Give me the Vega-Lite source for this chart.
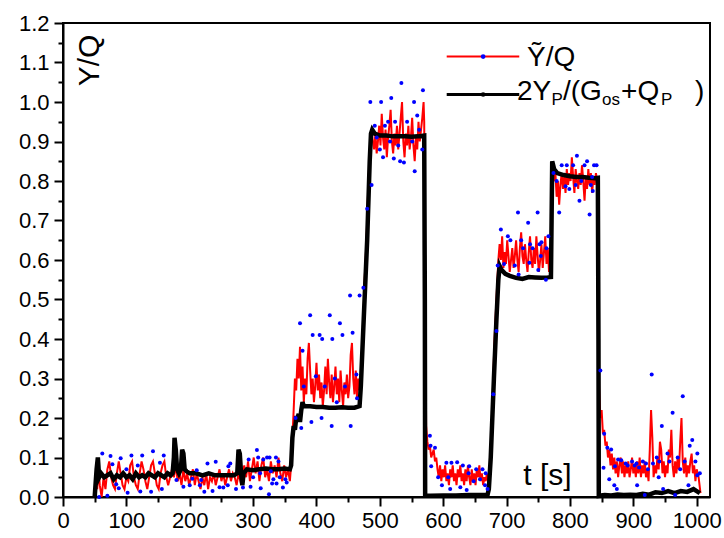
{
"$schema": "https://vega.github.io/schema/vega-lite/v6.json",
"width": 647, "height": 474, "autosize": "none",
"padding": {"left": 63, "top": 23, "right": 14, "bottom": 41},
"background": "white",
"config": {
 "view": {"stroke": "black", "strokeWidth": 2},
 "axis": {"labelFont": "Liberation Sans", "labelFontSize": 22, "labelColor": "black", "titleFont": "Liberation Sans", "titleFontSize": 30, "titleFontWeight": "normal", "titleColor": "black", "domainColor": "black", "domainWidth": 2, "tickColor": "black", "tickWidth": 2, "grid": false, "labelFlush": false, "labelOverlap": false},
 "text": {"font": "Liberation Sans", "color": "black"}
},
"datasets": {
 "red": [
{"t":50,"v":0},{"t":52,"v":0.06},{"t":54,"v":0.02},{"t":56,"v":0.08},{"t":58,"v":0.03},{"t":61,"v":0.0},{"t":64,"v":0.05},{"t":67,"v":0.02},{"t":70,"v":0.07},{"t":73,"v":0.09},{"t":76,"v":0.05},{"t":79,"v":0.03},{"t":82,"v":0.02},{"t":85,"v":0.06},{"t":88,"v":0.09},{"t":91,"v":0.06},{"t":94,"v":0.03},{"t":97,"v":0.02},{"t":100,"v":0.05},{"t":103,"v":0.04},{"t":106,"v":0.08},{"t":109,"v":0.09},{"t":112,"v":0.05},{"t":115,"v":0.03},{"t":118,"v":0.02},{"t":121,"v":0.06},{"t":124,"v":0.09},{"t":127,"v":0.07},{"t":130,"v":0.04},{"t":133,"v":0.02},{"t":136,"v":0.05},{"t":139,"v":0.08},{"t":142,"v":0.09},{"t":145,"v":0.06},{"t":148,"v":0.03},{"t":151,"v":0.02},{"t":154,"v":0.06},{"t":157,"v":0.08},{"t":160,"v":0.09},{"t":163,"v":0.05},{"t":166,"v":0.03},{"t":169,"v":0.05},{"t":172,"v":0.07},{"t":175,"v":0.05},
{"t":178,"v":0.08},{"t":181,"v":0.04},{"t":184,"v":0.06},{"t":187,"v":0.03},{"t":190,"v":0.07},{"t":193,"v":0.04},{"t":196,"v":0.06},{"t":199,"v":0.03},{"t":202,"v":0.05},{"t":205,"v":0.07},{"t":208,"v":0.03},{"t":211,"v":0.06},{"t":214,"v":0.04},{"t":217,"v":0.02},{"t":220,"v":0.05},{"t":223,"v":0.03},{"t":226,"v":0.06},{"t":229,"v":0.02},{"t":232,"v":0.05},{"t":235,"v":0.04},{"t":238,"v":0.06},{"t":241,"v":0.03},{"t":244,"v":0.05},{"t":247,"v":0.07},{"t":250,"v":0.04},{"t":253,"v":0.06},{"t":256,"v":0.03},{"t":259,"v":0.05},{"t":262,"v":0.07},{"t":265,"v":0.04},{"t":268,"v":0.06},{"t":271,"v":0.05},{"t":274,"v":0.03},{"t":277,"v":0.06},
{"t":280,"v":0.04},{"t":283,"v":0.05},{"t":286,"v":0.08},{"t":289,"v":0.05},{"t":292,"v":0.09},{"t":295,"v":0.04},{"t":298,"v":0.07},{"t":301,"v":0.1},{"t":304,"v":0.06},{"t":307,"v":0.09},{"t":310,"v":0.04},{"t":313,"v":0.08},{"t":316,"v":0.1},{"t":319,"v":0.05},{"t":322,"v":0.07},{"t":325,"v":0.04},{"t":328,"v":0.09},{"t":331,"v":0.06},{"t":334,"v":0.08},{"t":337,"v":0.05},{"t":340,"v":0.1},{"t":343,"v":0.06},{"t":346,"v":0.04},{"t":349,"v":0.08},{"t":352,"v":0.05},{"t":355,"v":0.07},{"t":358,"v":0.04},{"t":360,"v":0.08},
{"t":362,"v":0.15},{"t":364,"v":0.22},{"t":366,"v":0.3},{"t":368,"v":0.27},
{"t":370,"v":0.35},{"t":372,"v":0.3},{"t":374,"v":0.38},{"t":376,"v":0.27},{"t":378,"v":0.33},{"t":380,"v":0.24},{"t":382,"v":0.3},{"t":384,"v":0.26},{"t":386,"v":0.35},{"t":388,"v":0.39},{"t":390,"v":0.32},{"t":392,"v":0.26},{"t":394,"v":0.3},{"t":396,"v":0.24},{"t":398,"v":0.28},{"t":400,"v":0.34},{"t":402,"v":0.27},{"t":404,"v":0.31},{"t":406,"v":0.25},{"t":408,"v":0.29},{"t":410,"v":0.23},{"t":412,"v":0.27},{"t":414,"v":0.33},{"t":416,"v":0.26},{"t":418,"v":0.35},{"t":420,"v":0.29},{"t":422,"v":0.25},{"t":424,"v":0.31},{"t":426,"v":0.24},{"t":428,"v":0.28},{"t":430,"v":0.33},{"t":432,"v":0.26},{"t":434,"v":0.3},{"t":436,"v":0.24},{"t":438,"v":0.32},{"t":440,"v":0.27},{"t":442,"v":0.23},{"t":444,"v":0.29},{"t":446,"v":0.26},{"t":448,"v":0.31},{"t":450,"v":0.25},{"t":452,"v":0.28},{"t":454,"v":0.36},{"t":456,"v":0.39},{"t":458,"v":0.3},{"t":460,"v":0.26},{"t":462,"v":0.32},{"t":464,"v":0.25},{"t":466,"v":0.3},{"t":468,"v":0.27},
{"t":470,"v":0.3},{"t":473,"v":0.4},{"t":476,"v":0.55},{"t":479,"v":0.65},{"t":482,"v":0.8},{"t":485,"v":0.9},
{"t":487,"v":0.93},{"t":489,"v":0.9},{"t":491,"v":0.88},{"t":493,"v":0.92},{"t":495,"v":0.87},{"t":497,"v":0.9},{"t":499,"v":0.94},{"t":501,"v":0.89},{"t":503,"v":0.97},{"t":505,"v":0.91},{"t":507,"v":0.88},{"t":509,"v":0.93},{"t":511,"v":0.86},{"t":513,"v":0.91},{"t":515,"v":0.94},{"t":517,"v":0.98},{"t":519,"v":0.9},{"t":521,"v":0.87},{"t":523,"v":0.92},{"t":525,"v":0.89},{"t":527,"v":0.94},{"t":529,"v":0.88},{"t":531,"v":0.92},{"t":533,"v":0.96},{"t":535,"v":1.0},{"t":537,"v":0.9},{"t":539,"v":0.86},{"t":541,"v":0.92},{"t":543,"v":0.89},{"t":545,"v":0.94},{"t":547,"v":0.88},{"t":549,"v":0.91},{"t":551,"v":0.96},{"t":553,"v":0.89},{"t":555,"v":0.85},{"t":557,"v":0.91},{"t":559,"v":0.88},{"t":561,"v":0.95},{"t":563,"v":0.9},{"t":565,"v":0.93},{"t":567,"v":0.96},{"t":569,"v":1.0},{"t":570,"v":0.95},
{"t":571.5,"v":0.55},{"t":573,"v":0.18},
{"t":575,"v":0.14},{"t":577,"v":0.12},{"t":579,"v":0.13},{"t":581,"v":0.1},{"t":583,"v":0.11},{"t":585,"v":0.12},{"t":587,"v":0.09},{"t":589,"v":0.1},{"t":591,"v":0.07},{"t":593,"v":0.05},{"t":595,"v":0.08},{"t":597,"v":0.04},{"t":599,"v":0.07},{"t":601,"v":0.05},{"t":603,"v":0.08},{"t":605,"v":0.04},{"t":607,"v":0.06},{"t":609,"v":0.03},{"t":611,"v":0.07},{"t":613,"v":0.05},{"t":615,"v":0.08},{"t":617,"v":0.04},{"t":619,"v":0.06},{"t":621,"v":0.03},{"t":623,"v":0.07},{"t":625,"v":0.05},{"t":627,"v":0.08},{"t":629,"v":0.04},{"t":631,"v":0.06},{"t":633,"v":0.03},{"t":635,"v":0.07},{"t":637,"v":0.04},{"t":639,"v":0.08},{"t":641,"v":0.05},{"t":643,"v":0.03},{"t":645,"v":0.07},{"t":647,"v":0.04},{"t":649,"v":0.06},{"t":651,"v":0.03},{"t":653,"v":0.07},{"t":655,"v":0.05},{"t":657,"v":0.08},{"t":659,"v":0.04},{"t":661,"v":0.06},{"t":663,"v":0.03},{"t":665,"v":0.05},{"t":667,"v":0.04},{"t":669,"v":0.06},{"t":671,"v":0.04},
{"t":673,"v":0.03},{"t":675,"v":0.1},{"t":678,"v":0.25},{"t":681,"v":0.4},{"t":684,"v":0.5},{"t":687,"v":0.6},
{"t":689,"v":0.64},{"t":691,"v":0.6},{"t":693,"v":0.66},{"t":695,"v":0.58},{"t":697,"v":0.62},{"t":699,"v":0.59},{"t":701,"v":0.65},{"t":703,"v":0.61},{"t":705,"v":0.57},{"t":707,"v":0.6},{"t":709,"v":0.63},{"t":711,"v":0.58},{"t":713,"v":0.61},{"t":715,"v":0.65},{"t":717,"v":0.6},{"t":719,"v":0.57},{"t":721,"v":0.63},{"t":723,"v":0.67},{"t":725,"v":0.61},{"t":727,"v":0.59},{"t":729,"v":0.64},{"t":731,"v":0.6},{"t":733,"v":0.57},{"t":735,"v":0.62},{"t":737,"v":0.66},{"t":739,"v":0.6},{"t":741,"v":0.58},{"t":743,"v":0.63},{"t":745,"v":0.59},{"t":747,"v":0.66},{"t":749,"v":0.61},{"t":751,"v":0.57},{"t":753,"v":0.6},{"t":755,"v":0.64},{"t":757,"v":0.58},{"t":759,"v":0.62},{"t":761,"v":0.66},{"t":763,"v":0.59},{"t":765,"v":0.63},{"t":767,"v":0.57},{"t":769,"v":0.6},
{"t":771,"v":0.62},{"t":772,"v":0.82},
{"t":773,"v":0.83},{"t":775,"v":0.8},{"t":777,"v":0.82},{"t":779,"v":0.76},{"t":781,"v":0.8},{"t":783,"v":0.74},{"t":785,"v":0.79},{"t":787,"v":0.82},{"t":789,"v":0.78},{"t":791,"v":0.81},{"t":793,"v":0.77},{"t":795,"v":0.83},{"t":797,"v":0.79},{"t":799,"v":0.82},{"t":801,"v":0.8},{"t":803,"v":0.86},{"t":805,"v":0.81},{"t":807,"v":0.77},{"t":809,"v":0.83},{"t":811,"v":0.8},{"t":813,"v":0.78},{"t":815,"v":0.82},{"t":817,"v":0.79},{"t":819,"v":0.84},{"t":821,"v":0.8},{"t":823,"v":0.75},{"t":825,"v":0.81},{"t":827,"v":0.78},{"t":829,"v":0.83},{"t":831,"v":0.79},{"t":833,"v":0.82},{"t":835,"v":0.77},{"t":837,"v":0.81},{"t":839,"v":0.79},{"t":841,"v":0.82},{"t":843,"v":0.8},{"t":844,"v":0.62},
{"t":846,"v":0.28},{"t":848,"v":0.2},{"t":850,"v":0.22},{"t":852,"v":0.16},{"t":854,"v":0.17},{"t":856,"v":0.13},{"t":858,"v":0.14},{"t":860,"v":0.1},{"t":862,"v":0.12},{"t":864,"v":0.08},{"t":866,"v":0.11},{"t":868,"v":0.07},{"t":870,"v":0.1},{"t":872,"v":0.06},{"t":874,"v":0.09},{"t":876,"v":0.05},{"t":878,"v":0.08},{"t":880,"v":0.1},{"t":882,"v":0.06},{"t":884,"v":0.09},{"t":886,"v":0.05},{"t":888,"v":0.08},{"t":890,"v":0.06},{"t":892,"v":0.09},{"t":894,"v":0.05},{"t":896,"v":0.07},{"t":898,"v":0.1},{"t":900,"v":0.06},{"t":902,"v":0.08},{"t":904,"v":0.05},{"t":906,"v":0.09},{"t":908,"v":0.06},{"t":910,"v":0.1},{"t":912,"v":0.05},{"t":914,"v":0.08},{"t":916,"v":0.06},{"t":918,"v":0.09},{"t":920,"v":0.05},{"t":922,"v":0.07},{"t":924,"v":0.04},{"t":926,"v":0.12},{"t":928,"v":0.22},{"t":930,"v":0.15},{"t":932,"v":0.05},{"t":934,"v":0.08},{"t":936,"v":0.06},{"t":938,"v":0.1},{"t":940,"v":0.07},{"t":942,"v":0.14},{"t":944,"v":0.12},{"t":946,"v":0.06},{"t":948,"v":0.09},{"t":950,"v":0.05},{"t":952,"v":0.08},{"t":954,"v":0.06},{"t":956,"v":0.12},{"t":958,"v":0.1},{"t":960,"v":0.17},{"t":962,"v":0.08},{"t":964,"v":0.05},{"t":966,"v":0.09},{"t":968,"v":0.06},{"t":970,"v":0.1},{"t":972,"v":0.07},{"t":974,"v":0.14},{"t":976,"v":0.2},{"t":978,"v":0.09},{"t":980,"v":0.06},{"t":982,"v":0.1},{"t":984,"v":0.05},{"t":986,"v":0.08},{"t":988,"v":0.06},{"t":990,"v":0.09},{"t":992,"v":0.11},{"t":994,"v":0.06},{"t":996,"v":0.08},{"t":998,"v":0.04},{"t":1000,"v":0.07},{"t":1003,"v":0.05},{"t":1006,"v":0.01}
 ],
 "black": [
{"t":50,"v":0},{"t":53,"v":0.07},{"t":55,"v":0.1},{"t":57,"v":0.05},{"t":60,"v":0.06},{"t":65,"v":0.05},{"t":70,"v":0.055},{"t":75,"v":0.06},{"t":80,"v":0.045},{"t":85,"v":0.055},{"t":90,"v":0.05},{"t":95,"v":0.06},{"t":100,"v":0.05},{"t":105,"v":0.055},{"t":110,"v":0.045},{"t":115,"v":0.06},{"t":120,"v":0.05},{"t":125,"v":0.055},{"t":130,"v":0.05},{"t":135,"v":0.06},{"t":140,"v":0.055},{"t":145,"v":0.05},{"t":150,"v":0.06},{"t":155,"v":0.055},{"t":160,"v":0.05},{"t":165,"v":0.06},{"t":170,"v":0.055},{"t":173,"v":0.06},{"t":175,"v":0.1},{"t":176,"v":0.15},{"t":178,"v":0.12},{"t":180,"v":0.07},{"t":183,"v":0.06},{"t":186,"v":0.07},{"t":188,"v":0.12},{"t":190,"v":0.11},{"t":192,"v":0.07},{"t":195,"v":0.065},{"t":200,"v":0.06},{"t":210,"v":0.06},{"t":220,"v":0.055},{"t":230,"v":0.06},{"t":240,"v":0.055},{"t":250,"v":0.055},{"t":260,"v":0.055},{"t":270,"v":0.055},{"t":275,"v":0.06},{"t":277,"v":0.12},{"t":279,"v":0.11},{"t":281,"v":0.06},{"t":283,"v":0.03},{"t":285,"v":0.06},{"t":290,"v":0.07},{"t":300,"v":0.068},{"t":310,"v":0.07},{"t":320,"v":0.072},{"t":330,"v":0.07},{"t":340,"v":0.07},{"t":350,"v":0.072},{"t":358,"v":0.07},{"t":360,"v":0.08},{"t":362,"v":0.15},{"t":364,"v":0.18},{"t":366,"v":0.17},{"t":368,"v":0.2},{"t":370,"v":0.2},{"t":372,"v":0.21},{"t":374,"v":0.19},{"t":376,"v":0.22},{"t":378,"v":0.24},{"t":380,"v":0.23},{"t":390,"v":0.23},{"t":400,"v":0.228},{"t":410,"v":0.228},{"t":420,"v":0.226},{"t":430,"v":0.226},{"t":440,"v":0.227},{"t":450,"v":0.226},{"t":460,"v":0.226},{"t":468,"v":0.23},{"t":470,"v":0.28},{"t":474,"v":0.43},{"t":480,"v":0.65},{"t":484,"v":0.85},{"t":486,"v":0.92},{"t":488,"v":0.93},{"t":492,"v":0.92},{"t":500,"v":0.915},{"t":510,"v":0.915},{"t":520,"v":0.913},{"t":530,"v":0.913},{"t":540,"v":0.913},{"t":550,"v":0.912},{"t":560,"v":0.913},{"t":570,"v":0.915},{"t":571,"v":0.5},{"t":571.5,"v":0.003},{"t":580,"v":0.003},{"t":600,"v":0.004},{"t":620,"v":0.004},{"t":640,"v":0.005},{"t":660,"v":0.005},{"t":670,"v":0.006},{"t":672,"v":0.02},{"t":675,"v":0.1},{"t":680,"v":0.3},{"t":684,"v":0.45},{"t":687,"v":0.55},{"t":689,"v":0.585},{"t":692,"v":0.575},{"t":698,"v":0.565},{"t":705,"v":0.56},{"t":715,"v":0.555},{"t":725,"v":0.552},{"t":735,"v":0.557},{"t":745,"v":0.556},{"t":755,"v":0.555},{"t":765,"v":0.556},{"t":770,"v":0.557},{"t":771,"v":0.7},{"t":772,"v":0.85},{"t":775,"v":0.83},{"t":780,"v":0.82},{"t":790,"v":0.815},{"t":800,"v":0.812},{"t":810,"v":0.81},{"t":820,"v":0.81},{"t":830,"v":0.808},{"t":840,"v":0.807},{"t":844,"v":0.808},{"t":845,"v":0.4},{"t":845.5,"v":0.003},{"t":855,"v":0.005},{"t":865,"v":0.004},{"t":875,"v":0.006},{"t":885,"v":0.005},{"t":895,"v":0.006},{"t":905,"v":0.005},{"t":915,"v":0.008},{"t":925,"v":0.006},{"t":935,"v":0.012},{"t":945,"v":0.01},{"t":955,"v":0.015},{"t":965,"v":0.01},{"t":975,"v":0.015},{"t":985,"v":0.013},{"t":995,"v":0.02},{"t":1000,"v":0.015},{"t":1005,"v":0.01}
 ],
 "blue": [
{"t":57,"v":0.0},{"t":62,"v":0.11},{"t":70,"v":0.003},{"t":75,"v":0.104},{"t":78,"v":0.083},{"t":84,"v":0.032},{"t":88,"v":0.022},{"t":91,"v":0.098},{"t":100,"v":0.07},{"t":102,"v":0.011},{"t":108,"v":0.105},{"t":118,"v":0.08},{"t":122,"v":0.014},{"t":125,"v":0.105},{"t":139,"v":0.013},{"t":142,"v":0.116},{"t":153,"v":0.087},{"t":156,"v":0.02},{"t":159,"v":0.105},{"t":179,"v":0.043},{"t":190,"v":0.026},{"t":200,"v":0.03},{"t":204,"v":0.046},{"t":211,"v":0.068},{"t":216,"v":0.03},{"t":218,"v":0.043},{"t":223,"v":0.013},{"t":228,"v":0.085},{"t":236,"v":0.015},{"t":241,"v":0.089},{"t":247,"v":0.025},{"t":253,"v":0.024},{"t":260,"v":0.03},{"t":261,"v":0.078},{"t":264,"v":0.085},{"t":273,"v":0.02},{"t":284,"v":0.024},{"t":293,"v":0.095},{"t":296,"v":0.026},{"t":300,"v":0.05},{"t":306,"v":0.119},{"t":308,"v":0.1},{"t":311,"v":0.06},{"t":312,"v":0.022},{"t":316,"v":0.095},{"t":322,"v":0.1},{"t":325,"v":0.007},{"t":326,"v":0.1},{"t":328,"v":0.065},{"t":330,"v":0.034},{"t":332,"v":0.045},{"t":336,"v":0.1},{"t":337,"v":0.034},{"t":340,"v":0.09},{"t":342,"v":0.05},{"t":347,"v":0.024},{"t":351,"v":0.045},{"t":353,"v":0.037},
{"t":367,"v":0.2},{"t":374,"v":0.44},{"t":376,"v":0.175},{"t":378,"v":0.37},{"t":380,"v":0.28},{"t":390,"v":0.46},{"t":392,"v":0.19},{"t":394,"v":0.41},{"t":399,"v":0.306},{"t":405,"v":0.41},{"t":408,"v":0.2},{"t":409,"v":0.4},{"t":413,"v":0.28},{"t":421,"v":0.46},{"t":424,"v":0.18},{"t":425,"v":0.4},{"t":429,"v":0.3},{"t":432,"v":0.24},{"t":437,"v":0.44},{"t":441,"v":0.41},{"t":445,"v":0.28},{"t":453,"v":0.51},{"t":454,"v":0.18},{"t":457,"v":0.416},{"t":463,"v":0.31},{"t":464,"v":0.25},{"t":468,"v":0.51},{"t":474,"v":0.53},{"t":480,"v":0.73},{"t":485,"v":1.0},{"t":487,"v":0.79},
{"t":492,"v":0.94},{"t":495,"v":0.91},{"t":500,"v":0.88},{"t":502,"v":1.0},{"t":505,"v":0.86},{"t":508,"v":0.94},{"t":513,"v":0.95},{"t":516,"v":0.9},{"t":518,"v":1.01},{"t":522,"v":0.857},{"t":524,"v":0.95},{"t":529,"v":0.89},{"t":532,"v":0.85},{"t":534,"v":1.048},{"t":538,"v":0.847},{"t":543,"v":0.95},{"t":551,"v":0.9},{"t":554,"v":1.0},{"t":555,"v":0.825},{"t":559,"v":0.966},{"t":562,"v":0.93},{"t":567,"v":0.88},{"t":568,"v":1.03},
{"t":579,"v":0.155},{"t":580,"v":0.13},{"t":581,"v":0.078},{"t":587,"v":0.125},{"t":592,"v":0.05},{"t":598,"v":0.03},{"t":605,"v":0.087},{"t":608,"v":0.05},{"t":611,"v":0.02},{"t":613,"v":0.087},{"t":622,"v":0.088},{"t":627,"v":0.025},{"t":631,"v":0.08},{"t":637,"v":0.018},{"t":640,"v":0.06},{"t":641,"v":0.078},{"t":648,"v":0.04},{"t":652,"v":0.07},{"t":658,"v":0.045},{"t":662,"v":0.07},{"t":666,"v":0.03},{"t":667,"v":0.06},{"t":670,"v":0.02},
{"t":679,"v":0.26},{"t":684,"v":0.42},{"t":686,"v":0.586},{"t":691,"v":0.677},{"t":696,"v":0.59},{"t":702,"v":0.66},{"t":706,"v":0.65},{"t":713,"v":0.586},{"t":718,"v":0.72},{"t":719,"v":0.563},{"t":723,"v":0.65},{"t":726,"v":0.63},{"t":734,"v":0.694},{"t":736,"v":0.593},{"t":737,"v":0.64},{"t":741,"v":0.63},{"t":749,"v":0.72},{"t":750,"v":0.575},{"t":752,"v":0.64},{"t":754,"v":0.61},{"t":755,"v":0.645},{"t":762,"v":0.55},{"t":763,"v":0.63},{"t":766,"v":0.66},
{"t":774,"v":0.82},{"t":779,"v":0.8},{"t":783,"v":0.72},{"t":787,"v":0.84},{"t":793,"v":0.787},{"t":795,"v":0.84},{"t":799,"v":0.78},{"t":805,"v":0.84},{"t":809,"v":0.79},{"t":811,"v":0.864},{"t":815,"v":0.75},{"t":818,"v":0.8},{"t":823,"v":0.84},{"t":827,"v":0.85},{"t":831,"v":0.715},{"t":833,"v":0.79},{"t":835,"v":0.81},{"t":836,"v":0.775},{"t":838,"v":0.84},{"t":842,"v":0.84},
{"t":848,"v":0.32},{"t":853,"v":0.074},{"t":854,"v":0.16},{"t":859,"v":0.125},{"t":862,"v":0.045},{"t":865,"v":0.12},{"t":870,"v":0.03},{"t":871,"v":0.078},{"t":874,"v":0.02},{"t":876,"v":0.095},{"t":881,"v":0.093},{"t":888,"v":0.085},{"t":891,"v":0.08},{"t":898,"v":0.09},{"t":902,"v":0.08},{"t":905,"v":0.085},{"t":906,"v":0.03},{"t":909,"v":0.075},{"t":915,"v":0.09},{"t":918,"v":0.005},{"t":920,"v":0.085},{"t":923,"v":0.07},{"t":929,"v":0.31},{"t":931,"v":0.085},{"t":937,"v":0.1},{"t":940,"v":0.05},{"t":941,"v":0.09},{"t":945,"v":0.18},{"t":947,"v":0.02},{"t":954,"v":0.11},{"t":957,"v":0.09},{"t":962,"v":0.213},{"t":966,"v":0.005},{"t":970,"v":0.1},{"t":974,"v":0.07},{"t":978,"v":0.255},{"t":981,"v":0.09},{"t":987,"v":0.03},{"t":989,"v":0.13},{"t":993,"v":0.144},{"t":998,"v":0.09},{"t":1001,"v":0.11},{"t":1001,"v":0.055},{"t":1005,"v":0.06}
 ],
 "legRed": [{"t":605.5,"v":1.115},{"t":720,"v":1.115}],
 "legBlack": [{"t":605.5,"v":1.019},{"t":720,"v":1.019}],
 "legDot": [{"t":663,"v":1.115}],
 "legDotB": [{"t":663,"v":1.019}],
 "legMain": [{"t":732.2,"v":1.092,"s":"Ỹ/Q"},{"t":716.4,"v":1.006,"s":"2Y"},{"t":789.0,"v":1.006,"s":"/(G"},{"t":880.6,"v":1.006,"s":"+Q"},{"t":997.5,"v":1.006,"s":")"}],
 "legSub": [{"t":770.9,"v":0.9935,"s":"P"},{"t":850.6,"v":0.9935,"s":"os"},{"t":943.8,"v":0.9935,"s":"P"}]
},
"resolve": {"axis": {"x": "independent", "y": "independent"}},
"layer": [
 {"data": {"name": "red"}, "mark": {"type": "line", "color": "#ff0000", "strokeWidth": 2},
  "encoding": {
   "x": {"field": "t", "type": "quantitative", "scale": {"domain": [0, 1021], "nice": false, "zero": false},
     "axis": {"orient": "bottom", "values": [0,100,200,300,400,500,600,700,800,900,1000], "format": "d", "tickSize": 9, "labelPadding": 4, "title": "t [s]", "titleX": 484, "titleY": -13, "titleAngle": 0, "titleAlign": "center", "titleBaseline": "alphabetic"}},
   "y": {"field": "v", "type": "quantitative", "scale": {"domain": [0, 1.2], "nice": false, "zero": false},
     "axis": {"orient": "left", "values": [0,0.1,0.2,0.3,0.4,0.5,0.6,0.7,0.8,0.9,1.0,1.1,1.2], "format": ".1f", "tickSize": 9, "labelPadding": 5, "title": "Y/Q", "titleX": 35, "titleY": 37, "titleAngle": 270, "titleAlign": "center", "titleBaseline": "alphabetic"}}
  }},
 {"data": {"name": "black"}, "mark": {"type": "line", "color": "black", "strokeWidth": 4.5},
  "encoding": {
   "x": {"field": "t", "type": "quantitative", "axis": {"orient": "bottom", "values": [50,150,250,350,450,550,650,750,850,950], "labels": false, "domain": false, "tickSize": 5, "title": null}},
   "y": {"field": "v", "type": "quantitative", "axis": {"orient": "left", "values": [0.05,0.15,0.25,0.35,0.45,0.55,0.65,0.75,0.85,0.95,1.05,1.15], "labels": false, "domain": false, "tickSize": 5, "title": null}}
  }},
 {"data": {"name": "blue"}, "mark": {"type": "point", "filled": true, "color": "#0000ff", "size": 16, "opacity": 1},
  "encoding": {"x": {"field": "t", "type": "quantitative", "axis": null}, "y": {"field": "v", "type": "quantitative", "axis": null}}},
 {"data": {"name": "legRed"}, "mark": {"type": "line", "color": "#ff0000", "strokeWidth": 2},
  "encoding": {"x": {"field": "t", "type": "quantitative", "axis": null}, "y": {"field": "v", "type": "quantitative", "axis": null}}},
 {"data": {"name": "legBlack"}, "mark": {"type": "line", "color": "black", "strokeWidth": 3},
  "encoding": {"x": {"field": "t", "type": "quantitative", "axis": null}, "y": {"field": "v", "type": "quantitative", "axis": null}}},
 {"data": {"name": "legDot"}, "mark": {"type": "point", "filled": true, "color": "#0000ff", "size": 22, "opacity": 1},
  "encoding": {"x": {"field": "t", "type": "quantitative", "axis": null}, "y": {"field": "v", "type": "quantitative", "axis": null}}},
 {"data": {"name": "legDotB"}, "mark": {"type": "point", "filled": true, "color": "black", "size": 22, "opacity": 1},
  "encoding": {"x": {"field": "t", "type": "quantitative", "axis": null}, "y": {"field": "v", "type": "quantitative", "axis": null}}},
 {"data": {"name": "legMain"}, "mark": {"type": "text", "font": "Liberation Sans", "fontSize": 28, "align": "left", "baseline": "alphabetic", "color": "black"},
  "encoding": {"x": {"field": "t", "type": "quantitative", "axis": null}, "y": {"field": "v", "type": "quantitative", "axis": null}, "text": {"field": "s"}}},
 {"data": {"name": "legSub"}, "mark": {"type": "text", "font": "Liberation Sans", "fontSize": 17, "align": "left", "baseline": "alphabetic", "color": "black"},
  "encoding": {"x": {"field": "t", "type": "quantitative", "axis": null}, "y": {"field": "v", "type": "quantitative", "axis": null}, "text": {"field": "s"}}}
]
}
